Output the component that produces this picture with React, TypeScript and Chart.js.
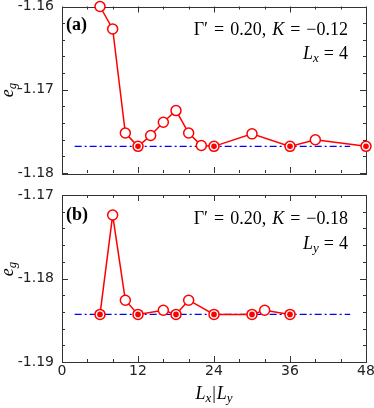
import React, { useEffect, useRef } from 'react';
import { Chart, registerables } from 'chart.js';
Chart.register(...registerables);

// ---------- data ----------
const xA = [6, 8, 10, 12, 14, 16, 18, 20, 22, 24, 30, 36, 40, 48];
const yA = [-1.16, -1.1627, -1.1752, -1.1768, -1.1755, -1.1739, -1.1725, -1.1752, -1.1767, -1.1768, -1.1753, -1.1768, -1.176, -1.1768];
const filledXA = [12, 24, 36, 48];
const filledYA = [-1.1768, -1.1768, -1.1768, -1.1768];
const refXA = [2, 45.5];
const refYA = [-1.1768, -1.1768];

const xB = [6, 8, 10, 12, 16, 18, 20, 24, 30, 32, 36];
const yB = [-1.1843, -1.1724, -1.1826, -1.1843, -1.1838, -1.1843, -1.1826, -1.1843, -1.1843, -1.1838, -1.1843];
const filledXB = [6, 12, 18, 24, 30, 36];
const filledYB = [-1.1843, -1.1843, -1.1843, -1.1843, -1.1843, -1.1843];
const refXB = [2, 45.5];
const refYB = [-1.1843, -1.1843];

const xTickVals = [0, 12, 24, 36, 48];
const yTickValsA = [-1.18, -1.17, -1.16];
const yTickValsB = [-1.19, -1.18, -1.17];

// ---------- helpers ----------
const RED = '#ff0000';
const BLUE = '#0000ff';
const FRAME = '#333333';
const SERIF = "'Liberation Serif', 'DejaVu Serif', serif";
const R = `18px ${SERIF}`;
const I = `italic 18px ${SERIF}`;
const SUB = `italic 13px ${SERIF}`;
const B = `bold 18px ${SERIF}`;

type Seg = { t: string; f: string; dy?: number; gap?: number };

function segW(ctx: CanvasRenderingContext2D, s: Seg) {
  if (s.gap !== undefined) return s.gap;
  ctx.font = s.f;
  return ctx.measureText(s.t).width;
}

function drawRich(ctx: CanvasRenderingContext2D, segs: Seg[], x: number, y: number, align: 'left' | 'right' | 'center') {
  let w = 0;
  for (const s of segs) w += segW(ctx, s);
  let cx = align === 'left' ? x : align === 'right' ? x - w : x - w / 2;
  ctx.textAlign = 'left';
  ctx.textBaseline = 'alphabetic';
  for (const s of segs) {
    const sw = segW(ctx, s);
    if (s.gap === undefined) {
      ctx.font = s.f;
      ctx.fillText(s.t, cx, y + (s.dy || 0));
    }
    cx += sw;
  }
}

const G = (n: number): Seg => ({ t: '', f: R, gap: n });

const pts = (xs: number[], ys: number[]) => xs.map((x, i) => ({ x, y: ys[i] }));

type Panel = {
  lineX: number[]; lineY: number[];
  fX: number[]; fY: number[];
  rX: number[]; rY: number[];
  yTicks: number[];
  showX: boolean;
  label: string;
  kText: string;
  lSub: string;
  labelY: number; paramY: number; lY: number; eY: number;
  height: number; padTop: number; xHeight: number;
};

function makeChart(canvas: HTMLCanvasElement, p: Panel) {
  const framePlugin = {
    id: 'frame',
    beforeDatasetsDraw(chart: any) {
      const { ctx, chartArea: a, scales } = chart;
      const xs = scales.x, ys = scales.y;
      ctx.save();
      ctx.strokeStyle = FRAME;
      ctx.lineWidth = 1;
      ctx.beginPath();
      for (let i = 0; i <= 12; i++) {
        const v = xs.min + i * 4;
        const px = Math.round(xs.getPixelForValue(v)) + 0.5;
        const len = i % 3 === 0 ? 6 : 3;
        ctx.moveTo(px, a.bottom); ctx.lineTo(px, a.bottom - len);
        ctx.moveTo(px, a.top); ctx.lineTo(px, a.top + len);
      }
      const n = Math.round((ys.max - ys.min) / 0.002);
      for (let i = 0; i <= n; i++) {
        const v = ys.min + i * 0.002;
        const py = Math.round(ys.getPixelForValue(v)) + 0.5;
        const len = i % 5 === 0 ? 6 : 3;
        ctx.moveTo(a.left, py); ctx.lineTo(a.left + len, py);
        ctx.moveTo(a.right, py); ctx.lineTo(a.right - len, py);
      }
      ctx.stroke();
      ctx.strokeRect(Math.round(a.left) + 0.5, Math.round(a.top) + 0.5, Math.round(a.right - a.left), Math.round(a.bottom - a.top));
      ctx.restore();
    },
    afterDraw(chart: any) {
      const { ctx, chartArea: a } = chart;
      ctx.save();
      ctx.fillStyle = '#000';
      drawRich(ctx, [{ t: p.label, f: B }], a.left + 4, p.labelY, 'left');
      drawRich(ctx, [
        { t: 'Γ′', f: R }, G(6),
        { t: '=', f: R }, G(6),
        { t: '0.20,', f: R }, G(6),
        { t: 'K', f: I }, G(6),
        { t: '=', f: R }, G(6),
        { t: '−' + p.kText, f: R },
      ], 348, p.paramY, 'right');
      drawRich(ctx, [
        { t: 'L', f: I },
        { t: p.lSub, f: SUB, dy: 3 }, G(5),
        { t: '=', f: R }, G(5),
        { t: '4', f: R },
      ], 348, p.lY, 'right');
      ctx.save();
      ctx.translate(13, p.eY);
      ctx.rotate(-Math.PI / 2);
      drawRich(ctx, [{ t: 'e', f: I }, { t: 'g', f: SUB, dy: 3 }], 0, 0, 'center');
      ctx.restore();
      if (p.showX) {
        drawRich(ctx, [
          { t: 'L', f: I }, { t: 'x', f: SUB, dy: 3 }, G(1),
          { t: '|', f: R }, G(1),
          { t: 'L', f: I }, { t: 'y', f: SUB, dy: 3 },
        ], 214, p.height - 9, 'center');
      }
      ctx.restore();
    },
  };

  return new Chart(canvas, {
    type: 'line',
    data: {
      datasets: [
        {
          data: pts(p.fX, p.fY),
          showLine: false,
          pointRadius: 2.8,
          pointBackgroundColor: RED,
          pointBorderWidth: 0,
          order: 1,
          clip: false,
        } as any,
        {
          data: pts(p.lineX, p.lineY),
          borderColor: RED,
          borderWidth: 1.5,
          pointRadius: 5,
          pointBorderColor: RED,
          pointBackgroundColor: '#ffffff',
          pointBorderWidth: 1.5,
          tension: 0,
          order: 2,
          clip: false,
        } as any,
        {
          data: pts(p.rX, p.rY),
          borderColor: BLUE,
          borderWidth: 1.3,
          borderDash: [7, 3, 2, 3],
          pointRadius: 0,
          order: 3,
        } as any,
      ],
    },
    options: {
      animation: false,
      responsive: false,
      maintainAspectRatio: false,
      events: [],
      layout: { padding: { left: 0, right: 8, top: p.padTop, bottom: p.showX ? 0 : p.height - p.padTop - 167 } },
      plugins: { legend: { display: false }, tooltip: { enabled: false } },
      scales: {
        x: {
          type: 'linear',
          min: 0,
          max: 48,
          afterBuildTicks: (s: any) => { s.ticks = xTickVals.map((v) => ({ value: v })); },
          ticks: {
            display: p.showX,
            color: '#222',
            font: { family: "'DejaVu Sans', sans-serif", size: 14 },
            padding: 1,
            maxRotation: 0,
            autoSkip: false,
          },
          grid: { display: false, drawTicks: false },
          border: { display: false },
          afterFit: (s: any) => { s.height = p.xHeight; s.paddingLeft = 0; s.paddingRight = 0; },
        },
        y: {
          type: 'linear',
          min: p.yTicks[0],
          max: p.yTicks[p.yTicks.length - 1],
          afterBuildTicks: (s: any) => { s.ticks = p.yTicks.map((v) => ({ value: v })); },
          ticks: {
            color: '#222',
            font: { family: "'DejaVu Sans', sans-serif", size: 14 },
            padding: 8,
            callback: (v: any) => Number(v).toFixed(2),
          },
          grid: { display: false, drawTicks: false },
          border: { display: false },
          afterFit: (s: any) => { s.width = 62; s.paddingTop = 0; s.paddingBottom = 0; },
        },
      },
    } as any,
    plugins: [framePlugin],
  });
}

const panelA: Panel = {
  lineX: xA, lineY: yA, fX: filledXA, fY: filledYA, rX: refXA, rY: refYA,
  yTicks: yTickValsA, showX: false, label: '(a)', kText: '0.12', lSub: 'x',
  labelY: 30, paramY: 35, lY: 59, eY: 90,
  height: 185, padTop: 6, xHeight: 0,
};
const panelB: Panel = {
  lineX: xB, lineY: yB, fX: filledXB, fY: filledYB, rX: refXB, rY: refYB,
  yTicks: yTickValsB, showX: true, label: '(b)', kText: '0.18', lSub: 'y',
  labelY: 35, paramY: 39, lY: 64, eY: 84,
  height: 223, padTop: 10, xHeight: 46,
};

export default function App() {
  const refA = useRef<HTMLCanvasElement>(null);
  const refB = useRef<HTMLCanvasElement>(null);
  useEffect(() => {
    const a = makeChart(refA.current!, panelA);
    const b = makeChart(refB.current!, panelB);
    return () => { a.destroy(); b.destroy(); };
  }, []);
  return (
    <div style={{ position: 'fixed', left: 0, top: 0, width: 374, height: 408, background: '#fff' }}>
      <canvas ref={refA} width={374} height={185} style={{ position: 'absolute', left: 0, top: 0, width: 374, height: 185 }} />
      <canvas ref={refB} width={374} height={223} style={{ position: 'absolute', left: 0, top: 185, width: 374, height: 223 }} />
    </div>
  );
}
